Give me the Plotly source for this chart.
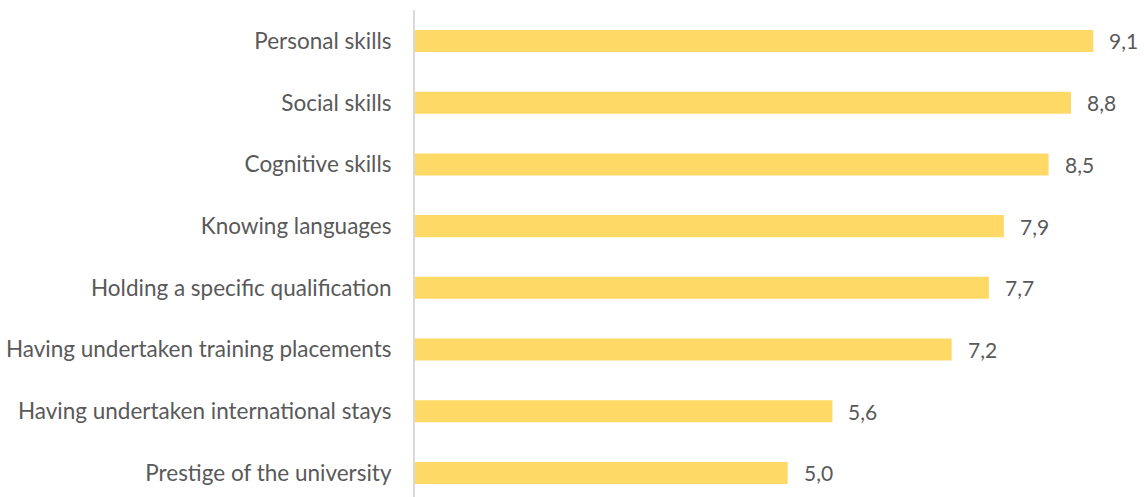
import plotly.graph_objects as go

# Skill ratings, listed bottom to top
categories = [
    "Prestige of the university",
    "Having undertaken international stays",
    "Having undertaken training placements",
    "Holding a specific qualification",
    "Knowing languages",
    "Cognitive skills",
    "Social skills",
    "Personal skills",
]
values = [5.0, 5.6, 7.2, 7.7, 7.9, 8.5, 8.8, 9.1]
value_labels = [f"{v:.1f}".replace(".", ",") for v in values]

FONT = "Lato"
TEXT_COLOR = "#595959"
BAR_COLOR = "#FFD966"

fig = go.Figure(
    go.Bar(
        x=values,
        y=list(range(len(categories))),
        orientation="h",
        marker=dict(color=BAR_COLOR, line=dict(width=0)),
        width=0.357,
        hoverinfo="skip",
    )
)

# value labels just past each bar end
for i, (v, lab) in enumerate(zip(values, value_labels)):
    fig.add_annotation(
        x=v, y=i, text=lab, showarrow=False,
        xanchor="left", yanchor="middle", xshift=14,
        font=dict(family=FONT, size=21, color=TEXT_COLOR),
    )

fig.update_layout(
    width=1144,
    height=497,
    margin=dict(l=415, r=0, t=10, b=0),
    paper_bgcolor="white",
    plot_bgcolor="white",
    showlegend=False,
    font=dict(family=FONT, size=22, color=TEXT_COLOR),
)
fig.update_xaxes(
    range=[0, 9.78], showgrid=False, zeroline=False,
    showticklabels=False, showline=False, fixedrange=True,
)
fig.update_yaxes(
    range=[-0.389, 7.502],
    tickmode="array",
    tickvals=list(range(len(categories))),
    ticktext=categories,
    showgrid=False, zeroline=False,
    showline=True, linecolor="#D9D9D9", linewidth=2,
    ticks="", ticklabelstandoff=17,
    tickfont=dict(family=FONT, size=22.5, color=TEXT_COLOR),
    fixedrange=True,
)

fig.write_html("out.html")
